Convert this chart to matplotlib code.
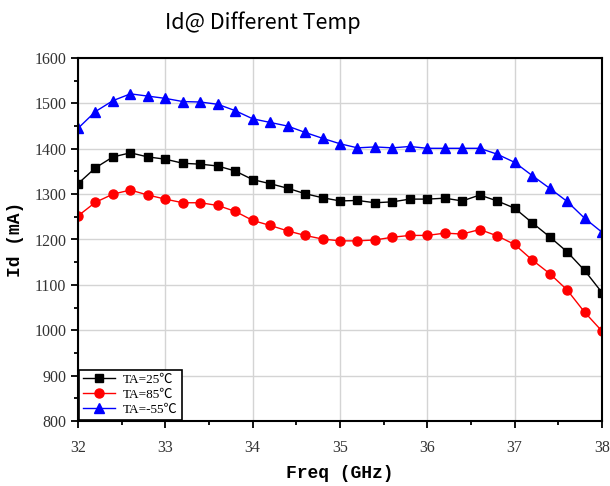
import matplotlib
matplotlib.use("Agg")
import matplotlib.pyplot as plt
from matplotlib.ticker import MultipleLocator

freq = [32.0, 32.2, 32.4, 32.6, 32.8, 33.0, 33.2, 33.4, 33.6, 33.8,
        34.0, 34.2, 34.4, 34.6, 34.8, 35.0, 35.2, 35.4, 35.6, 35.8,
        36.0, 36.2, 36.4, 36.6, 36.8, 37.0, 37.2, 37.4, 37.6, 37.8, 38.0]

id_25 = [1323, 1358, 1382, 1391, 1382, 1377, 1368, 1366, 1362, 1351,
         1332, 1323, 1313, 1301, 1292, 1285, 1286, 1281, 1283, 1289,
         1289, 1291, 1285, 1298, 1285, 1269, 1237, 1206, 1173, 1132, 1083]

id_85 = [1252, 1282, 1300, 1309, 1298, 1289, 1281, 1281, 1275, 1262,
         1242, 1231, 1219, 1209, 1201, 1197, 1197, 1199, 1205, 1209,
         1209, 1214, 1212, 1222, 1208, 1189, 1155, 1125, 1089, 1040, 998]

id_m55 = [1445, 1482, 1506, 1521, 1516, 1511, 1504, 1503, 1498, 1484,
          1466, 1458, 1450, 1436, 1423, 1411, 1402, 1404, 1402, 1405,
          1401, 1401, 1401, 1401, 1388, 1370, 1341, 1313, 1284, 1247, 1216]

labels = ["TA=25℃", "TA=85℃", "TA=-55℃"]

serif = ["Liberation Serif", "DejaVu Serif"]

fig = plt.figure(figsize=(6.1, 4.86), dpi=100)
ax = fig.add_axes([78 / 610, 1 - 421 / 486, (602 - 78) / 610, (421 - 58) / 486])

ax.plot(freq, id_25, color="black", marker="s", markersize=5.5, linewidth=1, label=labels[0])
ax.plot(freq, id_85, color="#ff0000", marker="o", markersize=6.5, linewidth=1, label=labels[1])
ax.plot(freq, id_m55, color="#0000ff", marker="^", markersize=7, linewidth=1, label=labels[2])

ax.set_xlim(32, 38)
ax.set_ylim(800, 1600)
ax.xaxis.set_major_locator(MultipleLocator(1))
ax.xaxis.set_minor_locator(MultipleLocator(0.5))
ax.yaxis.set_major_locator(MultipleLocator(100))
ax.yaxis.set_minor_locator(MultipleLocator(50))
ax.grid(which="major", color="#d4d4d4", linewidth=1)
ax.set_axisbelow(True)

for s in ax.spines.values():
    s.set_linewidth(1.5)
    s.set_color("black")
ax.tick_params(which="major", direction="out", length=5, width=1.3, colors="black",
               labelcolor="#333333", labelsize=11.5)
ax.tick_params(which="minor", direction="out", length=3, width=1.3, colors="black")
for lab in ax.get_xticklabels() + ax.get_yticklabels():
    lab.set_family(serif)
ax.tick_params(axis="x", pad=9)

ax.set_xlabel("Freq (GHz)", family=["Liberation Mono", "DejaVu Sans Mono"],
              fontweight="bold", fontsize=13, labelpad=6)
ax.set_ylabel("Id (mA)", family=["Liberation Mono", "DejaVu Sans Mono"],
              fontweight="bold", fontsize=13, labelpad=7)

leg = ax.legend(loc="lower left", borderaxespad=0.1, fancybox=False,
                prop={"family": ["Liberation Serif", "Noto Sans CJK SC"], "size": 9.5},
                handlelength=2.4, labelspacing=0.2, borderpad=0.3, handletextpad=0.6)
leg.get_frame().set_edgecolor("black")
leg.get_frame().set_linewidth(1.2)
leg.get_frame().set_alpha(1)

fig.text(263 / 610, 1 - 23 / 486, "Id@ Different Temp", ha="center", va="center",
         fontsize=15.5, family=["Noto Sans CJK SC", "DejaVu Sans"], fontweight="light")

fig.savefig("out.png", dpi=100)
